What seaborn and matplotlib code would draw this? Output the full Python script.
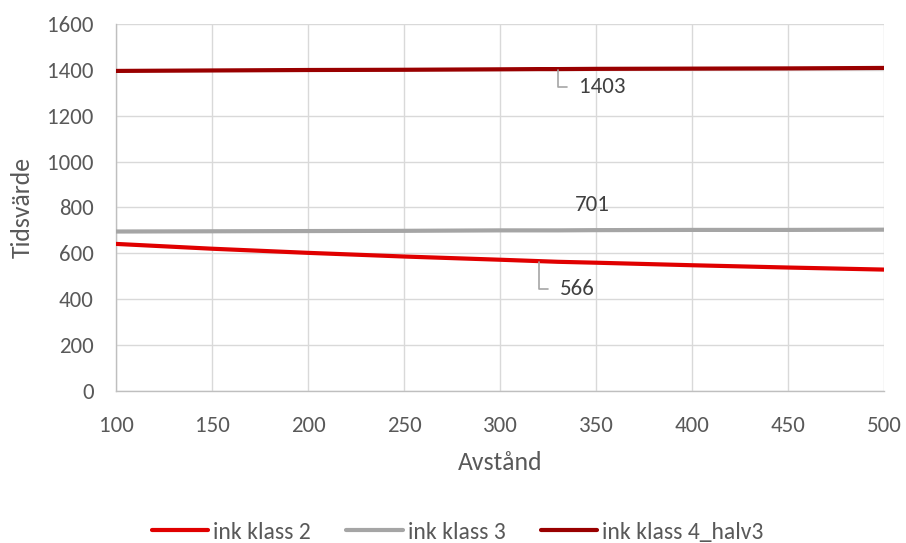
import matplotlib
matplotlib.use("Agg")
import matplotlib.pyplot as plt
from matplotlib.lines import Line2D
import seaborn as sns
import pandas as pd

# Avstånd (x) och tidsvärde för varje serie
avstand = [100, 150, 200, 250, 300, 320, 330, 350, 400, 450, 500]
klass2 = [641, 620, 602, 586, 572, 566, 563, 559, 548, 538, 529]
klass3 = [695, 696, 697, 698, 700, 700, 700, 701, 702, 702, 703]
klass4 = [1395, 1397, 1399, 1400, 1402, 1403, 1403, 1404, 1405, 1406, 1408]

serie_namn = ["ink klass 2", "ink klass 3", "ink klass 4_halv3"]
farger = ["#e00000", "#a5a5a5", "#990000"]

n = len(avstand)
df = pd.DataFrame({
    "Avstånd": avstand * 3,
    "Tidsvärde": klass2 + klass3 + klass4,
    "Serie": [serie_namn[0]] * n + [serie_namn[1]] * n + [serie_namn[2]] * n,
})

sns.set_theme(style="white")
plt.rcParams["font.family"] = ["Carlito", "Lato", "DejaVu Sans"]

fig = plt.figure(figsize=(9.06, 5.43), dpi=100)
ax = fig.add_axes([0.128, 0.280, 0.848, 0.676])

sns.lineplot(data=df, x="Avstånd", y="Tidsvärde", hue="Serie",
             palette=dict(zip(serie_namn, farger)), linewidth=3.0,
             ax=ax, legend=False, zorder=3)

ax.set_xlim(100, 500)
ax.set_ylim(0, 1600)
ax.set_xticks(range(100, 501, 50))
ax.set_yticks(range(0, 1601, 200))
ax.grid(True, color="#d9d9d9", linewidth=1.0)
for side in ["top", "right"]:
    ax.spines[side].set_visible(False)
for side in ["left", "bottom"]:
    ax.spines[side].set_color("#bfbfbf")
    ax.spines[side].set_linewidth(1.0)
ax.tick_params(axis="x", length=0, labelsize=16.5, colors="#595959", pad=18)
ax.tick_params(axis="y", length=0, labelsize=16.5, colors="#595959", pad=16)
ax.set_xlabel("Avstånd", fontsize=18.5, color="#595959", labelpad=11)
ax.set_ylabel("Tidsvärde", fontsize=18.5, color="#595959", labelpad=10)

# Dataetiketter med hänvisningslinjer
lbl = dict(fontsize=16.5, color="#404040")
leader = dict(arrowstyle="-", color="#a6a6a6", lw=1.2,
              connectionstyle="angle,angleA=0,angleB=90,rad=0",
              shrinkA=6, shrinkB=1)
i2 = avstand.index(320)
ax.annotate(str(klass2[i2]), xy=(avstand[i2], klass2[i2]), xytext=(331, 445),
            va="center", ha="left", arrowprops=leader, **lbl)
i4 = avstand.index(330)
ax.annotate(str(klass4[i4]), xy=(avstand[i4], klass4[i4]), xytext=(341, 1325),
            va="center", ha="left", arrowprops=leader, **lbl)
i3 = avstand.index(350)
ax.text(avstand[i3] - 2, klass3[i3] + 110, str(klass3[i3]), ha="center", va="center", **lbl)

# Förklaring
handles = [Line2D([], [], color=c, linewidth=3.0) for c in farger]
fig.legend(handles, serie_namn, loc="center", bbox_to_anchor=(0.505, 0.02),
           ncol=3, frameon=False, handlelength=2.4, handletextpad=0.2,
           columnspacing=1.5, fontsize=17, labelcolor="#595959")

fig.savefig("out.png", dpi=100)
